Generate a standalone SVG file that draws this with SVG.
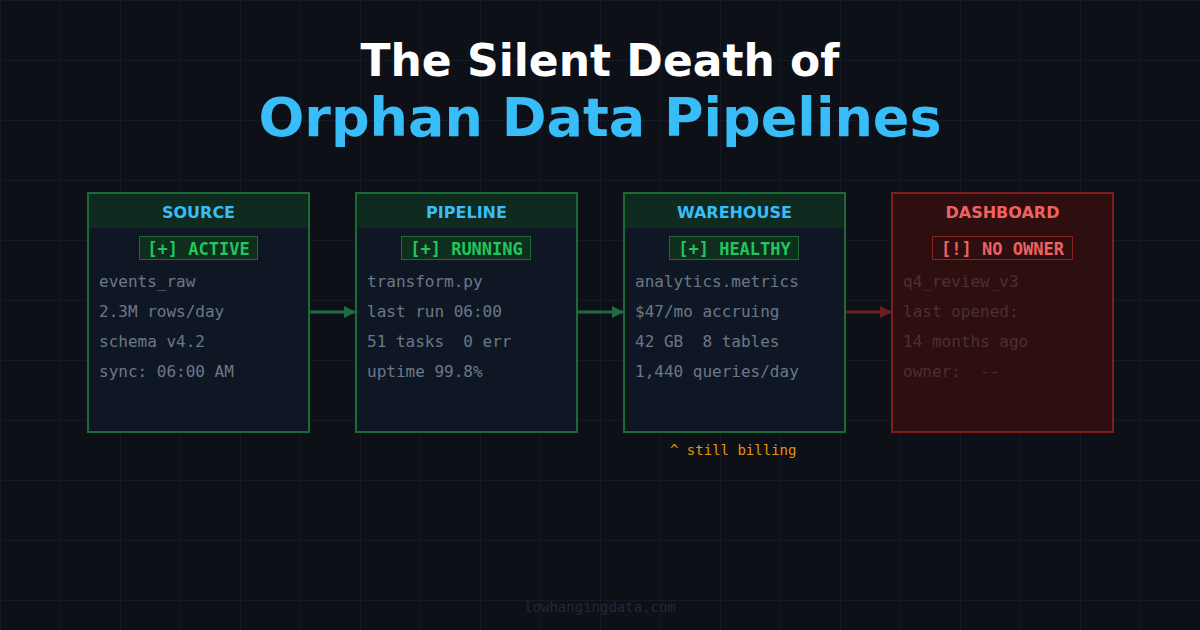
<svg xmlns="http://www.w3.org/2000/svg" width="1200" height="630" viewBox="0 0 1200 630">
<defs>
<pattern id="grid" width="60" height="60" patternUnits="userSpaceOnUse">
<path d="M60 0 L0 0 0 60" fill="none" stroke="#161e2b" stroke-width="1.5"/>
</pattern>
<marker id="ag" markerWidth="12" markerHeight="12" refX="11" refY="6" orient="auto" markerUnits="userSpaceOnUse">
<path d="M0 0 L12 6 L0 12 Z" fill="#1f6b3f"/>
</marker>
<marker id="ar" markerWidth="12" markerHeight="12" refX="11" refY="6" orient="auto" markerUnits="userSpaceOnUse">
<path d="M0 0 L12 6 L0 12 Z" fill="#6b1f1f"/>
</marker>
</defs>
<style>
text{white-space:pre}
.box{fill:#0f1724;stroke:#1b6b37;stroke-width:2}
.hdr{fill:#0f2a1e}
.htxt{font-family:"DejaVu Sans",sans-serif;font-weight:bold;font-size:16px;fill:#38bdf8;text-anchor:middle}
.badge{fill:#0f2e1d;stroke:#1b6b37;stroke-width:1}
.btxt{font-family:"DejaVu Sans Mono",monospace;font-weight:bold;font-size:17px;fill:#22c55e;text-anchor:middle}
.line{font-family:"DejaVu Sans Mono",monospace;font-size:16px;fill:#6b7789}
.rbox{fill:#2d0f10;stroke:#7f1d1d;stroke-width:2}
.rhtxt{font-family:"DejaVu Sans",sans-serif;font-weight:bold;font-size:16px;fill:#f06262;text-anchor:middle}
.rbadge{fill:#2d0f10;stroke:#8b2222;stroke-width:1}
.rbtxt{font-family:"DejaVu Sans Mono",monospace;font-weight:bold;font-size:17px;fill:#f06262;text-anchor:middle}
.rline{font-family:"DejaVu Sans Mono",monospace;font-size:16px;fill:#4d2f30}
</style>
<rect width="1200" height="630" fill="#0d1017"/>
<rect width="1200" height="630" fill="url(#grid)"/>
<text x="600" y="76" font-family="DejaVu Sans,sans-serif" font-weight="bold" font-size="44" fill="#ffffff" text-anchor="middle">The Silent Death of</text>
<text x="600" y="136" font-family="DejaVu Sans,sans-serif" font-weight="bold" font-size="54" fill="#38bdf8" text-anchor="middle">Orphan Data Pipelines</text>

<g id="connectors">
<line x1="309" y1="312" x2="355" y2="312" stroke="#1f6b3f" stroke-width="3" marker-end="url(#ag)"/>
<line x1="577" y1="312" x2="623" y2="312" stroke="#1f6b3f" stroke-width="3" marker-end="url(#ag)"/>
<line x1="845" y1="312" x2="891" y2="312" stroke="#6b1f1f" stroke-width="3" marker-end="url(#ar)"/>
</g>

<g id="source">
<rect class="box" x="88" y="193" width="221" height="239"/>
<rect class="hdr" x="89" y="194" width="219" height="34"/>
<text class="htxt" x="198.5" y="218">SOURCE</text>
<rect class="badge" x="139.5" y="236.5" width="118" height="23"/>
<text class="btxt" x="198.5" y="255">[+] ACTIVE</text>
<text class="line" x="99" y="287">events_raw</text>
<text class="line" x="99" y="317">2.3M rows/day</text>
<text class="line" x="99" y="347">schema v4.2</text>
<text class="line" x="99" y="377">sync: 06:00 AM</text>
</g>

<g id="pipeline">
<rect class="box" x="356" y="193" width="221" height="239"/>
<rect class="hdr" x="357" y="194" width="219" height="34"/>
<text class="htxt" x="466.5" y="218">PIPELINE</text>
<rect class="badge" x="401.5" y="236.5" width="129" height="23"/>
<text class="btxt" x="466.5" y="255">[+] RUNNING</text>
<text class="line" x="367" y="287">transform.py</text>
<text class="line" x="367" y="317">last run 06:00</text>
<text class="line" x="367" y="347">51 tasks  0 err</text>
<text class="line" x="367" y="377">uptime 99.8%</text>
</g>

<g id="warehouse">
<rect class="box" x="624" y="193" width="221" height="239"/>
<rect class="hdr" x="625" y="194" width="219" height="34"/>
<text class="htxt" x="734.5" y="218">WAREHOUSE</text>
<rect class="badge" x="669.5" y="236.5" width="129" height="23"/>
<text class="btxt" x="734.5" y="255">[+] HEALTHY</text>
<text class="line" x="635" y="287">analytics.metrics</text>
<text class="line" x="635" y="317">$47/mo accruing</text>
<text class="line" x="635" y="347">42 GB  8 tables</text>
<text class="line" x="635" y="377">1,440 queries/day</text>
<text x="670" y="455" font-family="DejaVu Sans Mono,monospace" font-size="14" fill="#e0950c">^ still billing</text>
</g>

<g id="dashboard">
<rect class="rbox" x="892" y="193" width="221" height="239"/>
<text class="rhtxt" x="1002.5" y="218">DASHBOARD</text>
<rect class="rbadge" x="932.5" y="236.5" width="140" height="23"/>
<text class="rbtxt" x="1002.5" y="255">[!] NO OWNER</text>
<text class="rline" x="903" y="287">q4_review_v3</text>
<text class="rline" x="903" y="317">last opened:</text>
<text class="rline" x="903" y="347">14 months ago</text>
<text class="rline" x="903" y="377">owner:  --</text>
</g>

<text x="600" y="612" font-family="DejaVu Sans Mono,monospace" font-size="14" fill="#1f2a3a" text-anchor="middle">lowhangingdata.com</text>
</svg>
